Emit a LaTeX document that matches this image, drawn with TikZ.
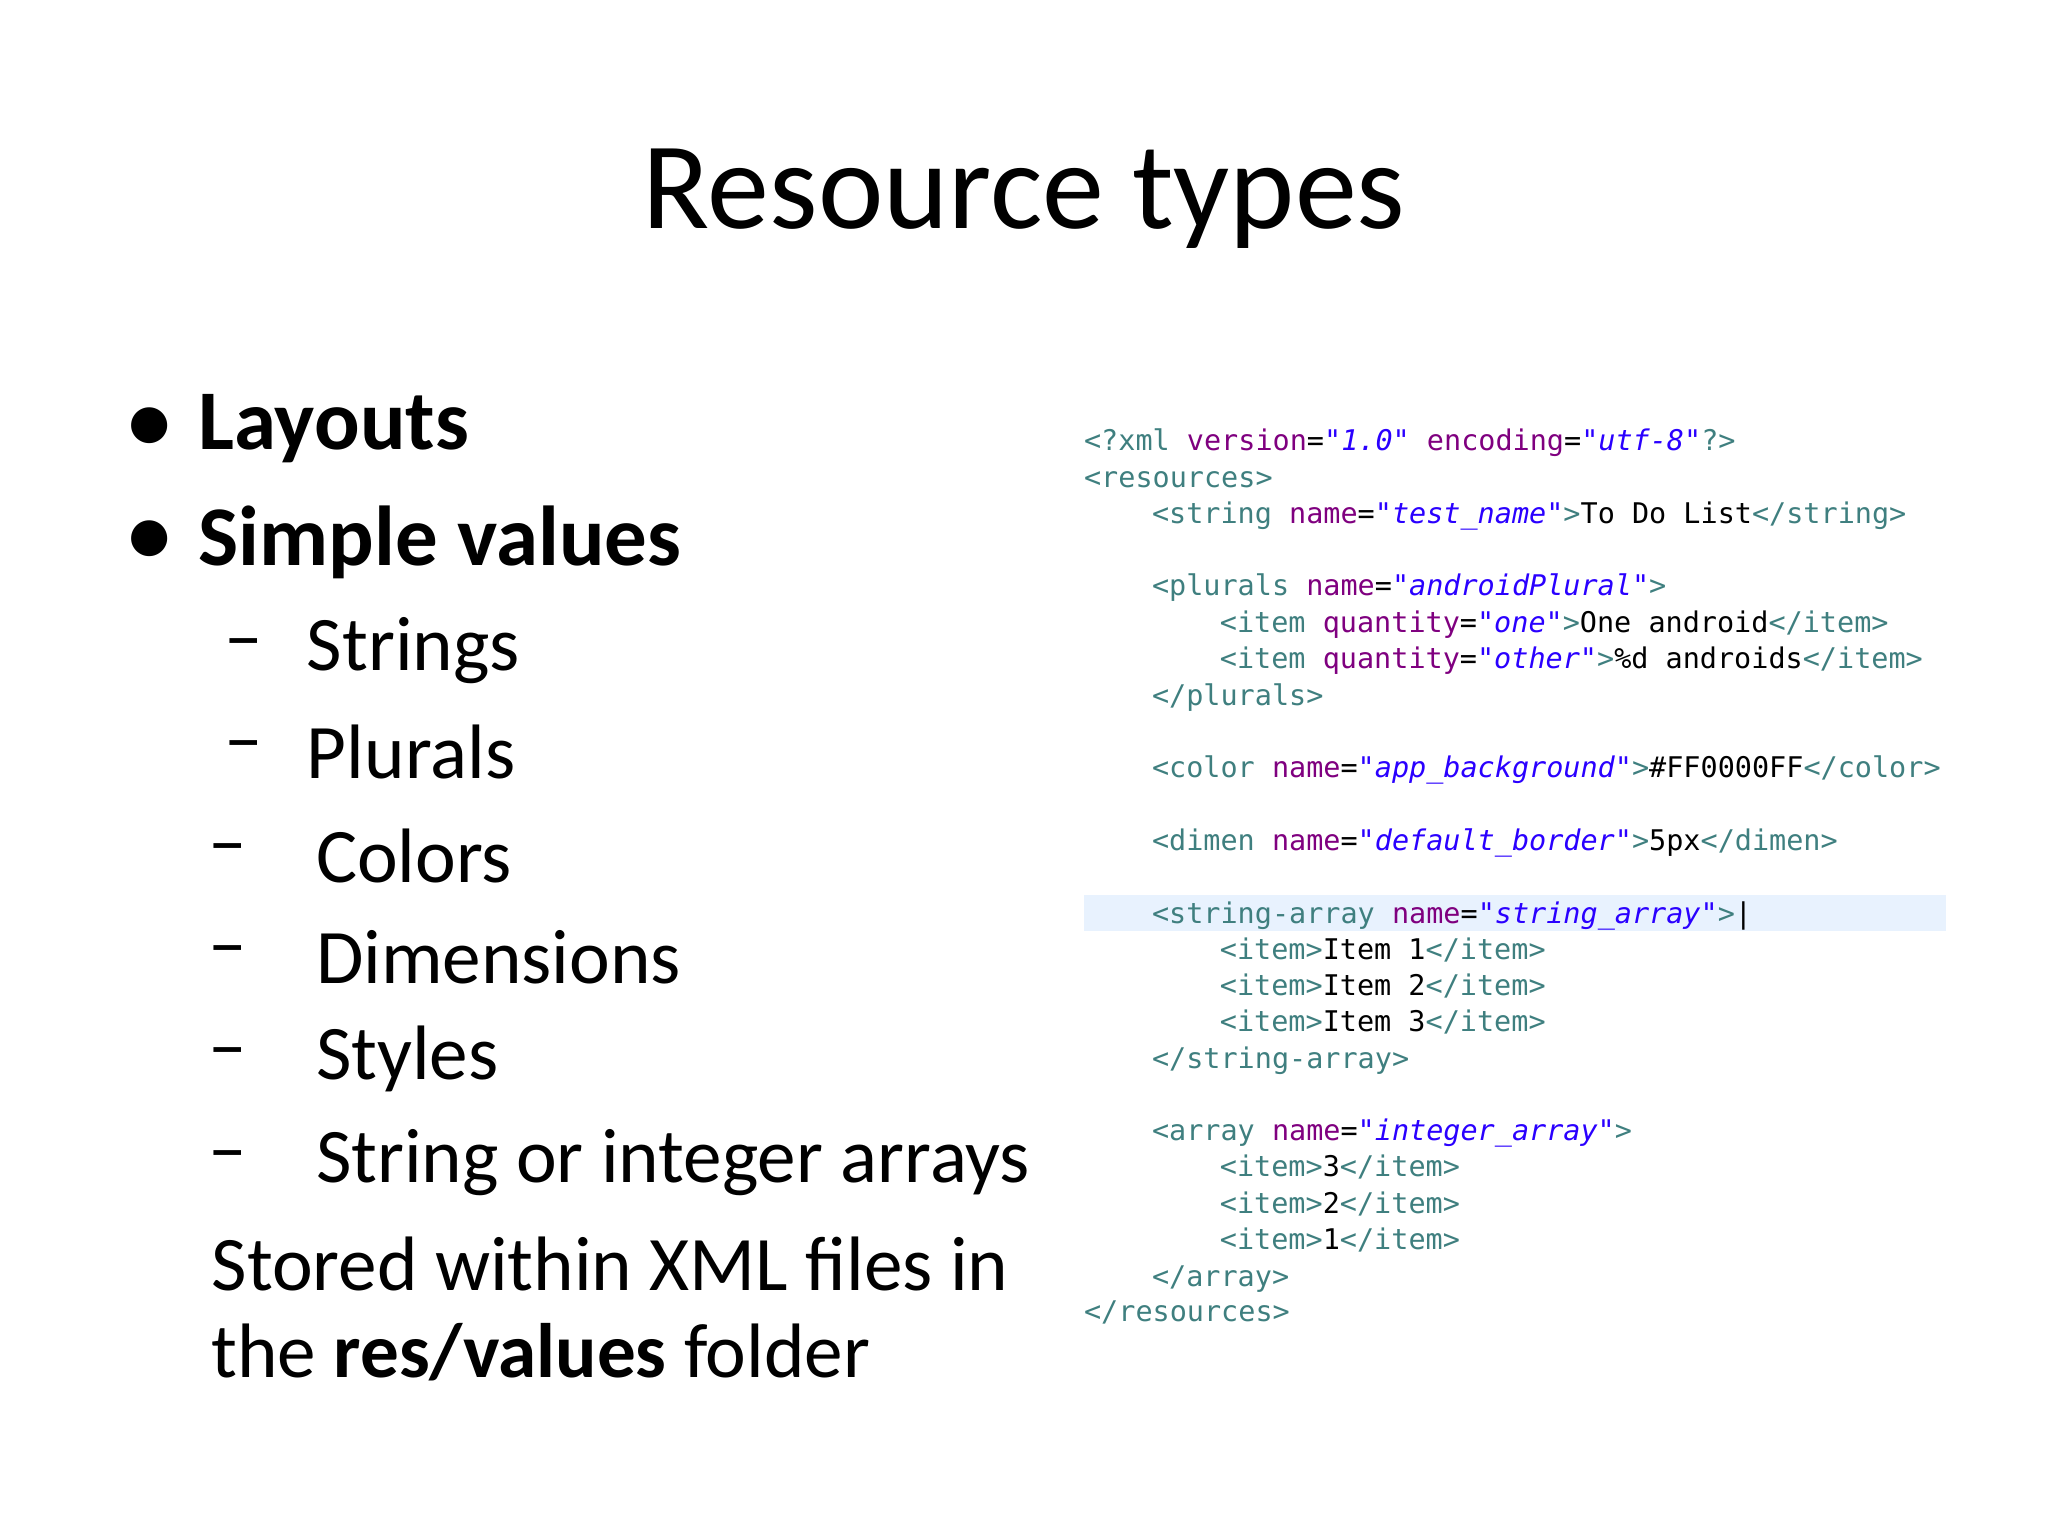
\documentclass[tikz,border=0pt]{standalone}
\usepackage{fontspec}
\setmainfont{Carlito}
\newfontfamily\codefont{DejaVu Sans Mono}
\usetikzlibrary{positioning}
\definecolor{tagcol}{RGB}{63,127,127}
\definecolor{attcol}{RGB}{127,0,127}
\definecolor{valcol}{RGB}{42,0,255}
\definecolor{hilite}{RGB}{232,242,254}
\newcommand{\tg}[1]{\textcolor{tagcol}{#1}}
\newcommand{\at}[1]{\textcolor{attcol}{#1}}
\newcommand{\vl}[1]{\textcolor{valcol}{\itshape #1}}
\begin{document}
\begin{tikzpicture}[x=0.01cm, y=-0.01cm,
    every node/.style = {inner sep=0pt, outer sep=0pt},
    bigitem/.style = {anchor=west, font=\fontsize{18.5}{22}\selectfont\bfseries},
    subitem/.style = {anchor=west, font=\fontsize{16.8}{20}\selectfont},
    codeline/.style = {anchor=base west, font=\codefont\fontsize{6.2}{7}\selectfont}]
		\useasboundingbox (0,0) rectangle (1568,1176);
		\fill[hilite] (830,685) rectangle (1490,713);
		\node[anchor=center, font=\fontsize{27}{32}\selectfont] (title) at (784,152) {Resource types};
		% bullets
		\node[bigitem] (m1) at (98,328) {\textbullet};
		\node[bigitem] (b1) at (152,328) {Layouts};
		\node[bigitem] (m2) at (98,415) {\textbullet};
		\node[bigitem] (b2) at (152,415) {Simple values};
		\node[subitem] (n1) at (172,498) {--};
		\node[subitem] (d1) at (235,498) {Strings};
		\node[subitem] (n2) at (172,576) {--};
		\node[subitem] (d2) at (235,576) {Plurals};
		\node[subitem] (n3) at (160,655) {--};
		\node[subitem] (d3) at (242,655) {Colors};
		\node[subitem] (n4) at (160,733) {--};
		\node[subitem] (d4) at (242,733) {Dimensions};
		\node[subitem] (n5) at (160,811) {--};
		\node[subitem] (d5) at (242,811) {Styles};
		\node[subitem] (n6) at (160,890) {--};
		\node[subitem] (d6) at (242,890) {String or integer arrays};
		\node[subitem] (s1) at (162,968) {Stored within XML files in};
		\node[subitem] (s2) at (162,1035) {the \textbf{res/values} folder};
		% code
		\node[codeline] (c1) at (830,345) {\tg{<?xml} \at{version}=\vl{"1.0"} \at{encoding}=\vl{"utf-8"}\tg{?>}};
		\node[codeline] (c2) at (830,373) {\tg{<resources>}};
		\node[codeline] (c3) at (882,401) {\tg{<string} \at{name}=\vl{"test\_name"}\tg{>}To Do List\tg{</string>}};
		\node[codeline] (c4) at (882,456) {\tg{<plurals} \at{name}=\vl{"androidPlural"}\tg{>}};
		\node[codeline] (c5) at (934,484) {\tg{<item} \at{quantity}=\vl{"one"}\tg{>}One android\tg{</item>}};
		\node[codeline] (c6) at (934,512) {\tg{<item} \at{quantity}=\vl{"other"}\tg{>}\%d androids\tg{</item>}};
		\node[codeline] (c7) at (882,540) {\tg{</plurals>}};
		\node[codeline] (c8) at (882,595) {\tg{<color} \at{name}=\vl{"app\_background"}\tg{>}\#FF0000FF\tg{</color>}};
		\node[codeline] (c9) at (882,651) {\tg{<dimen} \at{name}=\vl{"default\_border"}\tg{>}5px\tg{</dimen>}};
		\node[codeline] (c10) at (882,707) {\tg{<string-array} \at{name}=\vl{"string\_array"}\tg{>}|};
		\node[codeline] (c11) at (934,735) {\tg{<item>}Item 1\tg{</item>}};
		\node[codeline] (c12) at (934,762) {\tg{<item>}Item 2\tg{</item>}};
		\node[codeline] (c13) at (934,790) {\tg{<item>}Item 3\tg{</item>}};
		\node[codeline] (c14) at (882,818) {\tg{</string-array>}};
		\node[codeline] (c15) at (882,873) {\tg{<array} \at{name}=\vl{"integer\_array"}\tg{>}};
		\node[codeline] (c16) at (934,901) {\tg{<item>}3\tg{</item>}};
		\node[codeline] (c17) at (934,929) {\tg{<item>}2\tg{</item>}};
		\node[codeline] (c18) at (934,957) {\tg{<item>}1\tg{</item>}};
		\node[codeline] (c19) at (882,985) {\tg{</array>}};
		\node[codeline] (c20) at (830,1012) {\tg{</resources>}};
\end{tikzpicture}
\end{document}
